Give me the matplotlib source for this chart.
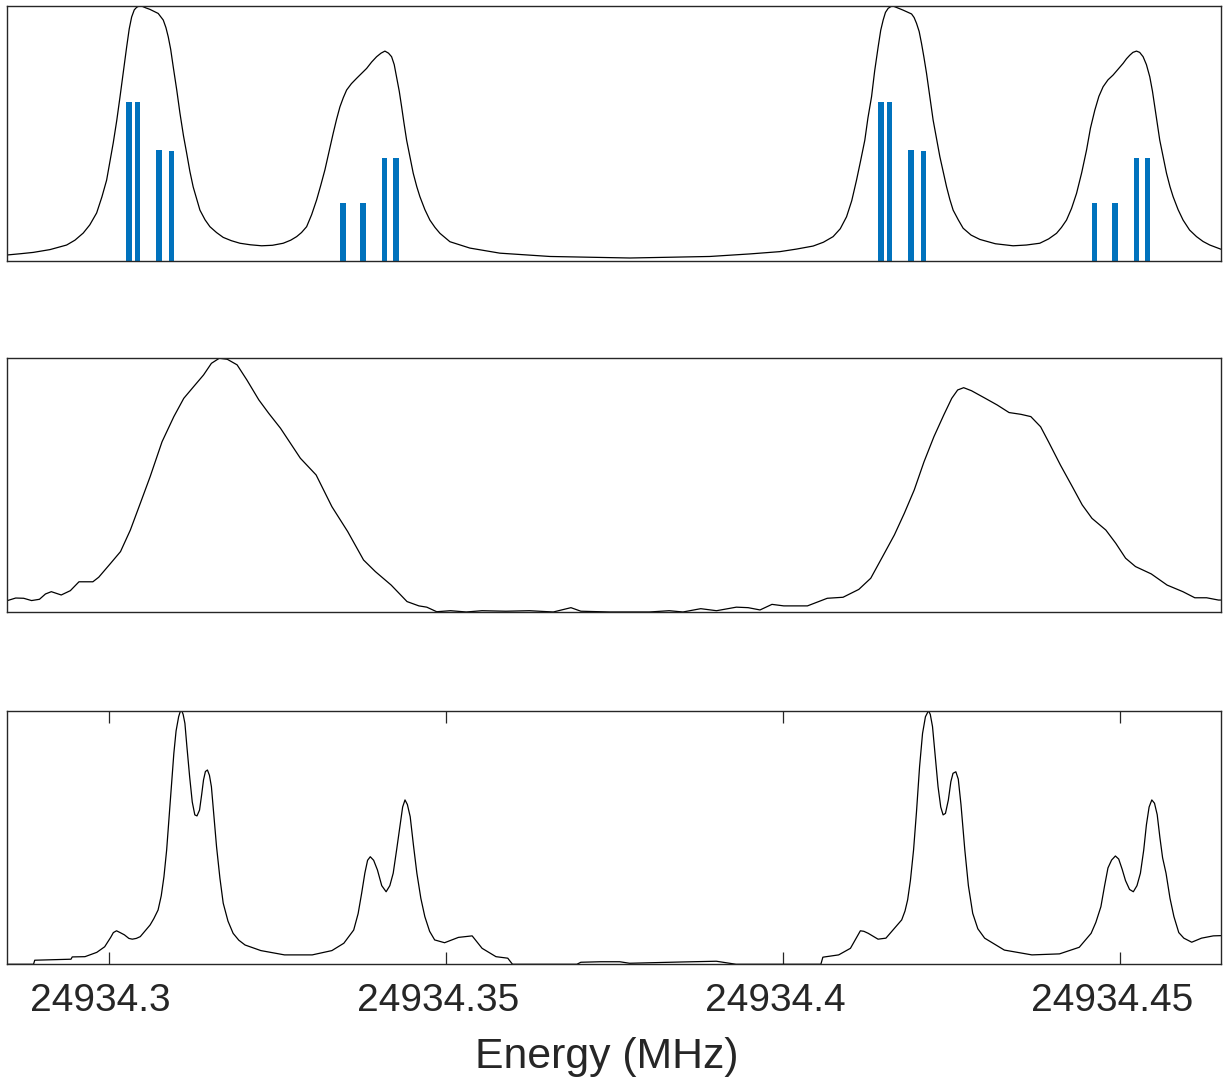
import numpy as np
import matplotlib.pyplot as plt
from matplotlib.transforms import ScaledTranslation

plt.rcParams['font.family'] = ['Liberation Sans', 'DejaVu Sans']

# centre of the scan and axis limits (MHz)
f0 = 24934.3
x_lo, x_hi = 24934.285, 24934.465

# --- top panel: simulated spectrum (offsets in kHz from f0, normalised intensity)
sim_khz = [-15.0, -13.0, -11.18, -8.7, -6.23, -5.0, -3.77, -2.8, -1.78, -1.0, -0.30, 0.2,
           0.68, 1.2, 1.68, 2.2, 2.67, 3.05, 3.41, 3.8, 4.15, 4.5, 4.89, 5.5, 6.12, 7.35,
           8.10, 8.5, 8.84, 9.2, 9.58, 10.1, 10.57, 11.1, 11.57, 12.05, 12.54, 13.54, 14.3,
           15.02, 16.0, 16.99, 18.2, 19.47, 21.0, 22.69, 24.3, 25.89, 27.0, 27.88, 28.6,
           29.36, 30.1, 30.84, 31.45, 32.07, 32.7, 33.30, 33.8, 34.30, 34.8, 35.29, 36.0,
           36.77, 37.5, 38.26, 39.0, 39.74, 40.4, 40.97, 41.5, 41.96, 42.35, 42.70, 43.1,
           43.45, 43.8, 44.19, 44.7, 45.17, 45.7, 46.16, 46.9, 47.64, 48.4, 49.13, 50.61,
           53.57, 58.02, 65.44, 77.30, 89.16, 95.09, 99.54, 102.0, 104.48, 106.0, 107.44,
           108.5, 109.43, 110.2, 110.91, 111.5, 112.14, 112.6, 113.14, 113.6, 114.12, 114.5,
           114.86, 115.2, 115.60, 116.0, 116.34, 117.0, 117.82, 119.07, 119.45, 119.81,
           120.2, 120.55, 120.9, 121.29, 121.8, 122.27, 122.8, 123.27, 123.8, 124.26,
           124.75, 125.24, 126.0, 126.72, 127.9, 129.20, 131.5, 134.13, 136.1, 138.09,
           139.4, 140.57, 141.3, 142.05, 142.8, 143.54, 144.3, 145.02, 145.6, 146.25,
           146.85, 147.48, 148.2, 148.96, 149.7, 150.45, 150.95, 151.44, 151.9, 152.43,
           152.9, 153.41, 153.9, 154.40, 154.8, 155.14, 155.5, 155.88, 156.4, 156.88,
           157.4, 157.86, 158.6, 159.34, 160.3, 161.33, 162.3, 163.30, 165.0]
sim_int = [0.022, 0.027, 0.032, 0.043, 0.061, 0.080, 0.108, 0.140, 0.187, 0.250, 0.316, 0.390,
           0.462, 0.550, 0.642, 0.745, 0.839, 0.910, 0.957, 0.985, 0.995, 1.0, 1.0, 0.993, 0.987,
           0.971, 0.945, 0.915, 0.879, 0.830, 0.761, 0.670, 0.580, 0.490, 0.422, 0.350, 0.289,
           0.198, 0.160, 0.133, 0.110, 0.091, 0.078, 0.068, 0.062, 0.058, 0.060, 0.068, 0.080,
           0.094, 0.110, 0.133, 0.180, 0.238, 0.295, 0.356, 0.430, 0.500, 0.555, 0.604, 0.640,
           0.670, 0.695, 0.716, 0.735, 0.755, 0.780, 0.801, 0.815, 0.823, 0.815, 0.801, 0.770,
           0.722, 0.665, 0.604, 0.540, 0.473, 0.405, 0.343, 0.290, 0.251, 0.200, 0.159, 0.130,
           0.107, 0.074, 0.049, 0.029, 0.016, 0.010, 0.016, 0.026, 0.035, 0.045, 0.057, 0.072,
           0.094, 0.125, 0.172, 0.235, 0.316, 0.390, 0.473, 0.560, 0.644, 0.745, 0.840, 0.905,
           0.945, 0.975, 0.991, 0.998, 1.0, 0.993, 0.984, 0.969, 0.955, 0.932, 0.900, 0.853,
           0.800, 0.736, 0.640, 0.552, 0.475, 0.408, 0.345, 0.290, 0.240, 0.198, 0.160, 0.127,
           0.100, 0.083, 0.066, 0.058, 0.061, 0.068, 0.085, 0.107, 0.130, 0.159, 0.205, 0.264,
           0.345, 0.434, 0.520, 0.591, 0.645, 0.683, 0.710, 0.729, 0.752, 0.775, 0.793, 0.807,
           0.818, 0.823, 0.818, 0.801, 0.770, 0.722, 0.665, 0.604, 0.540, 0.473, 0.405, 0.343,
           0.290, 0.251, 0.200, 0.159, 0.120, 0.094, 0.075, 0.061, 0.044]

# stick spectrum (line positions in kHz from f0, relative strengths)
stick_khz = [3.01, 4.30, 7.49, 9.34, 34.74, 37.71, 40.93, 42.60,
             114.52, 115.81, 118.97, 120.85, 146.25, 149.26, 152.43, 154.11]
stick_int = [0.622, 0.622, 0.436, 0.432, 0.225, 0.225, 0.402, 0.402,
             0.622, 0.622, 0.436, 0.432, 0.225, 0.225, 0.402, 0.402]

# --- middle panel: measured, broad
mid_khz = [-15.0, -13.78, -12.60, -11.43, -10.26, -9.37, -8.50, -7.03, -5.68, -4.40, -2.34,
           -1.47, 0.30, 1.76, 3.22, 4.69, 6.15, 7.92, 9.67, 11.14, 12.60, 14.07, 15.24,
           16.41, 17.59, 19.05, 20.51, 22.27, 23.74, 25.49, 26.96, 28.43, 30.77, 33.11,
           35.45, 37.80, 39.56, 41.90, 44.25, 46.01, 47.18, 48.65, 50.70, 53.04, 55.38,
           58.90, 62.41, 65.94, 68.56, 70.03, 74.33, 80.19, 83.13, 85.17, 87.81, 90.15,
           93.09, 94.84, 96.60, 98.37, 100.12, 103.63, 106.57, 108.91, 111.25, 113.02,
           114.77, 116.53, 118.00, 119.47, 120.92, 122.39, 123.86, 125.03, 125.91, 126.80,
           127.96, 130.01, 131.76, 133.53, 135.29, 136.76, 138.21, 139.38, 141.15, 142.91,
           144.38, 145.83, 147.88, 149.35, 150.81, 152.28, 154.62, 156.97, 159.31, 161.08,
           162.83, 164.59, 165.0]
mid_int = [0.045, 0.055, 0.054, 0.045, 0.050, 0.071, 0.080, 0.067, 0.084, 0.119, 0.119,
           0.137, 0.192, 0.238, 0.323, 0.428, 0.533, 0.671, 0.770, 0.842, 0.888, 0.934, 0.980,
           1.0, 0.996, 0.974, 0.914, 0.836, 0.783, 0.724, 0.665, 0.606, 0.540, 0.415,
           0.317, 0.205, 0.159, 0.106, 0.041, 0.024, 0.019, 0.001, 0.005, 0.0, 0.005,
           0.003, 0.005, 0.0, 0.017, 0.003, 0.0, 0.0, 0.005, 0.0, 0.013, 0.005,
           0.019, 0.017, 0.008, 0.030, 0.024, 0.024, 0.054, 0.058, 0.089, 0.133,
           0.218, 0.304, 0.389, 0.481, 0.592, 0.691, 0.777, 0.842, 0.875, 0.884,
           0.872, 0.842, 0.816, 0.786, 0.779, 0.770, 0.730, 0.671, 0.579, 0.494,
           0.422, 0.369, 0.323, 0.271, 0.212, 0.179, 0.150, 0.106, 0.080, 0.056,
           0.056, 0.047, 0.047]

# --- bottom panel: measured, resolved
low_khz = [-15.0, -11.14, -10.96, -8.50, -5.58, -5.40, -3.51, -1.76, -0.59, 0.30, 0.7, 1.17,
           1.7, 2.34, 3.0, 3.51, 4.1, 4.69, 6.15, 6.7, 7.33, 7.8, 8.2, 8.6, 8.97, 9.3, 9.67,
           10.0, 10.38, 10.6, 10.84, 11.05, 11.31, 11.6, 12.01, 12.4, 12.78, 13.1, 13.48,
           13.8, 14.07, 14.35, 14.65, 14.95, 15.24, 15.6, 16.00, 16.5, 16.99, 17.7, 18.46,
           19.3, 20.23, 22.57, 26.08, 30.19, 33.11, 34.88, 36.34, 37.0, 37.52, 38.0, 38.4,
           38.80, 39.3, 39.86, 40.5, 41.15, 41.7, 42.20, 42.7, 43.19, 43.6, 43.95, 44.3,
           44.72, 45.2, 45.71, 46.3, 46.89, 47.6, 48.35, 49.82, 51.87, 53.91, 55.38, 57.44,
           59.19, 59.89, 69.44, 70.03, 72.97, 75.79, 77.25, 84.86, 90.12, 93.05, 99.48,
           105.62, 105.92, 108.26, 110.01, 111.0, 111.48, 112.0, 112.65, 114.10, 115.27,
           117.61, 118.1, 118.49, 118.9, 119.37, 119.8, 120.26, 120.7, 121.13, 121.59,
           121.85, 122.18, 122.55, 123.00, 123.4, 123.75, 124.1, 124.53, 124.9, 125.22,
           125.64, 126.0, 126.4, 126.97, 127.5, 128.14, 128.9, 129.91, 132.83, 136.92,
           141.01, 143.94, 145.70, 146.4, 147.15, 147.7, 148.2, 148.74, 149.3, 149.79,
           150.3, 150.8, 151.4, 151.96, 152.5, 153.01, 153.5, 153.9, 154.3, 154.7, 155.1,
           155.5, 155.9, 156.3, 156.81, 157.4, 157.98, 158.7, 159.45, 160.62, 162.07,
           163.82, 165.0]
low_int = [0.0, 0.0, 0.016, 0.018, 0.020, 0.029, 0.030, 0.047, 0.069, 0.106, 0.125, 0.132,
           0.125, 0.116, 0.102, 0.099, 0.102, 0.109, 0.155, 0.180, 0.214, 0.270, 0.345, 0.450,
           0.582, 0.700, 0.832, 0.920, 0.976, 0.995, 1.0, 0.985, 0.950, 0.860, 0.740, 0.640,
           0.589, 0.585, 0.608, 0.670, 0.727, 0.760, 0.766, 0.745, 0.700, 0.590, 0.464,
           0.340, 0.241, 0.170, 0.122, 0.095, 0.076, 0.054, 0.037, 0.037, 0.054, 0.083,
           0.135, 0.200, 0.280, 0.360, 0.410, 0.424, 0.410, 0.372, 0.310, 0.286, 0.310,
           0.359, 0.450, 0.543, 0.620, 0.648, 0.630, 0.582, 0.470, 0.359, 0.260, 0.188,
           0.130, 0.096, 0.085, 0.106, 0.112, 0.063, 0.030, 0.024, 0.0, 0.0, 0.008, 0.010,
           0.010, 0.004, 0.009, 0.012, 0.0, 0.0, 0.0, 0.028, 0.037, 0.063, 0.110, 0.132,
           0.130, 0.122, 0.099, 0.103, 0.175, 0.210, 0.254, 0.330, 0.451, 0.600, 0.779,
           0.910, 0.976, 1.0, 0.985, 0.937, 0.830, 0.700, 0.620, 0.589, 0.595, 0.648, 0.720,
           0.753, 0.759, 0.730, 0.630, 0.451, 0.310, 0.201, 0.140, 0.103, 0.056, 0.037,
           0.041, 0.067, 0.122, 0.165, 0.227, 0.310, 0.380, 0.411, 0.427, 0.415, 0.375,
           0.330, 0.295, 0.286, 0.310, 0.359, 0.450, 0.550, 0.620, 0.648, 0.635, 0.590,
           0.500, 0.420, 0.359, 0.260, 0.188, 0.125, 0.103, 0.087, 0.103, 0.112, 0.113]

tick_vals = [24934.3, 24934.35, 24934.4, 24934.45]
tick_labels = ['24934.3', '24934.35', '24934.4', '24934.45']


def mhz(khz):
    return f0 + np.asarray(khz) / 1000.0


ax_col = '#262626'
fig = plt.figure(figsize=(12.29, 10.82), dpi=100)
left, width = 0.0061, 0.9876
ax1 = fig.add_axes([left, 0.7592, width, 0.2352])
ax2 = fig.add_axes([left, 0.4344, width, 0.2345])
ax3 = fig.add_axes([left, 0.1088, width, 0.2344])

ax1.bar(mhz(stick_khz), stick_int, width=0.00079, color='#0072BD', zorder=1)
ax1.plot(mhz(sim_khz), sim_int, color='k', lw=0.9, zorder=2)
ax2.plot(mhz(mid_khz), mid_int, color='k', lw=0.9)
ax3.plot(mhz(low_khz), low_int, color='k', lw=0.9)

for ax in (ax1, ax2, ax3):
    ax.set_xlim(x_lo, x_hi)
    ax.set_ylim(0, 1)
    ax.set_yticks([])
    for s in ax.spines.values():
        s.set_color(ax_col)
        s.set_linewidth(1.0)

ax1.set_xticks([])
ax2.set_xticks([])

ax3.set_xticks(tick_vals)
ax3.set_xticklabels(tick_labels)
ax3.tick_params(axis='x', direction='in', top=True, length=8.6, width=0.9,
                color=ax_col, labelcolor=ax_col, labelsize=28, pad=13.5)
ax3.set_xlabel('Energy (MHz)', fontsize=30.8, color=ax_col, labelpad=13)

# the original renderer places the text a few pixels left of centre
shift = ScaledTranslation(-8 / 100, 0, fig.dpi_scale_trans)
for lab in ax3.get_xticklabels():
    lab.set_transform(lab.get_transform() + shift)
ax3.xaxis.label.set_transform(ax3.xaxis.label.get_transform() + shift)

fig.savefig('out.png', dpi=100)
